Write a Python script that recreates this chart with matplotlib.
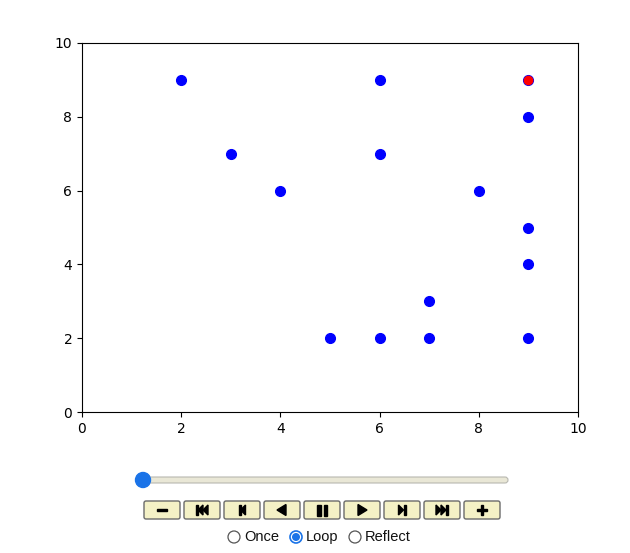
import matplotlib
matplotlib.use("Agg")
import matplotlib.pyplot as plt
from matplotlib.patches import FancyBboxPatch, Circle, Rectangle, Polygon

# scatter data (one frame of the animation)
xs = [2, 3, 4, 5, 6, 6, 6, 7, 7, 8, 9, 9, 9, 9, 9]
ys = [9, 7, 6, 2, 9, 7, 2, 3, 2, 6, 9, 8, 5, 4, 2]
highlight_x = [9]
highlight_y = [9]
radio_labels = ["Once", "Loop", "Reflect"]

fig = plt.figure(figsize=(6.3, 5.53), dpi=100)
fig.patch.set_facecolor("white")

ax = fig.add_axes([82 / 630, 1 - 412 / 553, 496 / 630, 369 / 553])
ax.plot(xs, ys, "o", color="blue", ms=7, linestyle="none")
ax.plot(highlight_x, highlight_y, "o", color="red", ms=6, linestyle="none")
ax.set_xlim(0, 10)
ax.set_ylim(0, 10)

# animation controls, drawn in pixel coordinates
ui = fig.add_axes([0, 0, 1, 1])
ui.set_xlim(0, 630)
ui.set_ylim(553, 0)
ui.axis("off")
ui.patch.set_alpha(0)

# slider
ui.add_patch(FancyBboxPatch((136, 477), 372, 6, boxstyle="round,pad=0,rounding_size=3",
                            facecolor="#e9e7d6", edgecolor="#b8b8b0", lw=0.8))
ui.add_patch(Circle((143, 480), 7.5, facecolor="#1a73e8", edgecolor="#1a73e8"))

# buttons
for i in range(9):
    x0 = 144 + 40 * i
    ui.add_patch(FancyBboxPatch((x0, 501), 36, 18, boxstyle="round,pad=0,rounding_size=2",
                                facecolor="#f4f1c6", edgecolor="#6b6b6b", lw=1))

def icon(i):
    cx = 162 + 40 * i
    cy = 510
    k = "black"
    if i == 0:
        ui.add_patch(Rectangle((cx - 5, cy - 1.2), 10, 2.6, color=k))
    elif i == 1:
        ui.add_patch(Rectangle((cx - 6, cy - 5), 2, 10, color=k))
        ui.add_patch(Polygon([(cx - 4, cy), (cx + 1, cy - 5), (cx + 1, cy + 5)], color=k))
        ui.add_patch(Polygon([(cx + 1, cy), (cx + 6, cy - 5), (cx + 6, cy + 5)], color=k))
    elif i == 2:
        ui.add_patch(Rectangle((cx - 3.5, cy - 5), 2, 10, color=k))
        ui.add_patch(Polygon([(cx - 1.5, cy), (cx + 3.5, cy - 5), (cx + 3.5, cy + 5)], color=k))
    elif i == 3:
        ui.add_patch(Polygon([(cx - 5, cy), (cx + 4, cy - 5.5), (cx + 4, cy + 5.5)], color=k))
    elif i == 4:
        ui.add_patch(Rectangle((cx - 5, cy - 5.5), 3.5, 11, color=k))
        ui.add_patch(Rectangle((cx + 1.5, cy - 5.5), 3.5, 11, color=k))
    elif i == 5:
        ui.add_patch(Polygon([(cx + 5, cy), (cx - 4, cy - 5.5), (cx - 4, cy + 5.5)], color=k))
    elif i == 6:
        ui.add_patch(Polygon([(cx + 1.5, cy), (cx - 3.5, cy - 5), (cx - 3.5, cy + 5)], color=k))
        ui.add_patch(Rectangle((cx + 1.5, cy - 5), 2, 10, color=k))
    elif i == 7:
        ui.add_patch(Polygon([(cx - 1, cy), (cx - 6, cy - 5), (cx - 6, cy + 5)], color=k))
        ui.add_patch(Polygon([(cx + 4, cy), (cx - 1, cy - 5), (cx - 1, cy + 5)], color=k))
        ui.add_patch(Rectangle((cx + 4, cy - 5), 2, 10, color=k))
    else:
        ui.add_patch(Rectangle((cx - 5, cy - 1.3), 10, 2.6, color=k))
        ui.add_patch(Rectangle((cx - 1.3, cy - 5), 2.6, 10, color=k))

for i in range(9):
    icon(i)

# loop mode radio buttons
radio_x = [234, 296, 355]
for j, (rx, lab) in enumerate(zip(radio_x, radio_labels)):
    if j == 1:
        ui.add_patch(Circle((rx, 537), 6, facecolor="white", edgecolor="#1a73e8", lw=1.2))
        ui.add_patch(Circle((rx, 537), 4, facecolor="#1a73e8", edgecolor="none"))
    else:
        ui.add_patch(Circle((rx, 537), 6, facecolor="white", edgecolor="#555555", lw=0.9))
    ui.text(rx + 10, 537, lab, fontsize=10.5, family="Liberation Sans",
            va="center", ha="left", color="#111111")

fig.savefig("out.png", dpi=100)
